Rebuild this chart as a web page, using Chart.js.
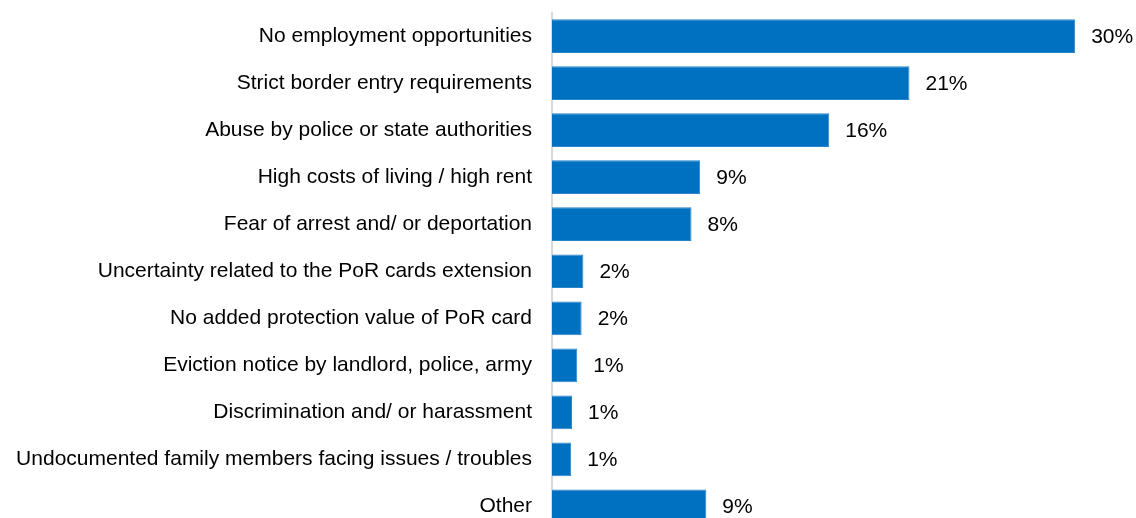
<!DOCTYPE html>
<html lang="en">
<head>
  <meta charset="UTF-8">
  <title>Reasons for leaving</title>
  <script src="https://cdn.jsdelivr.net/npm/chart.js"></script>
  <style>
    html, body { margin: 0; padding: 0; background: #fff; overflow: hidden; }
    #wrap { width: 1136px; height: 518px; overflow: hidden; }
  </style>
</head>
<body>
  <div id="wrap">
    <canvas id="reasonsChart" width="1136" height="530"></canvas>
  </div>

  <script>
    const categories = [
      'No employment opportunities',
      'Strict border entry requirements',
      'Abuse by police or state authorities',
      'High costs of living / high rent',
      'Fear of arrest and/ or deportation',
      'Uncertainty related to the PoR cards extension',
      'No added protection value of PoR card',
      'Eviction notice by landlord, police, army',
      'Discrimination and/ or harassment',
      'Undocumented family members facing issues / troubles',
      'Other'
    ];
    const shares = [30.0, 20.5, 15.9, 8.5, 8.0, 1.8, 1.7, 1.45, 1.15, 1.1, 8.85];
    const shareLabels = ['30%', '21%', '16%', '9%', '8%', '2%', '2%', '1%', '1%', '1%', '9%'];

    const FONT = "'Liberation Sans', Arial, sans-serif";

    // value labels to the right of each bar
    const valueLabels = {
      id: 'valueLabels',
      afterDatasetsDraw(chart) {
        const ctx = chart.ctx;
        const meta = chart.getDatasetMeta(0);
        ctx.save();
        ctx.font = '21px ' + FONT;
        ctx.fillStyle = '#000';
        ctx.textAlign = 'left';
        ctx.textBaseline = 'middle';
        meta.data.forEach((bar, i) => {
          ctx.fillText(shareLabels[i], bar.x + 16, bar.y + 1);
        });
        ctx.restore();
      }
    };

    new Chart(document.getElementById('reasonsChart'), {
      type: 'bar',
      data: {
        labels: categories,
        datasets: [{
          data: shares,
          backgroundColor: '#0070c0',
          borderColor: '#2a84c8',
          borderWidth: 1,
          categoryPercentage: 1,
          barPercentage: 0.717
        }]
      },
      options: {
        indexAxis: 'y',
        responsive: false,
        animation: false,
        layout: { padding: { top: 12.5, right: 26, bottom: 0, left: 0 } },
        plugins: {
          legend: { display: false },
          tooltip: { enabled: false }
        },
        scales: {
          x: {
            display: false,
            min: 0,
            max: 32
          },
          y: {
            grid: { display: false, drawTicks: false },
            border: { display: true, color: '#d9d9d9', width: 2 },
            ticks: {
              padding: 20,
              color: '#000',
              font: { family: FONT, size: 21 }
            },
            afterFit(scale) {
              scale.width = 552;
              // no extra room above/below for the tick labels
              scale.paddingTop = 0;
              scale.paddingBottom = 0;
            }
          }
        }
      },
      plugins: [valueLabels]
    });
  </script>
</body>
</html>
